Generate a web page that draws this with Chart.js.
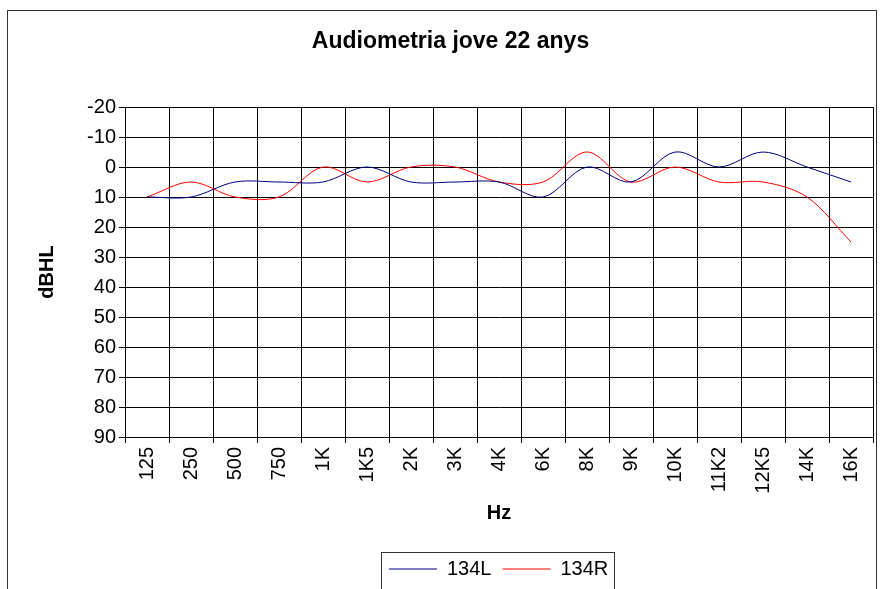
<!DOCTYPE html>
<html>
<head>
<meta charset="utf-8">
<script src="https://cdn.jsdelivr.net/npm/chart.js@4/dist/chart.umd.min.js"></script>
<style>
  html, body { margin: 0; padding: 0; background: #ffffff; }
  #wrap { width: 880px; height: 589px; position: relative; }
</style>
</head>
<body>
<div id="wrap"><canvas id="c" width="880" height="589"></canvas></div>
<script>
// ---- data ----
const frequencies = ['125','250','500','750','1K','1K5','2K','3K','4K','6K','8K','9K','10K','11K2','12K5','14K','16K'];
const ear134L = [10, 10, 5, 5, 5, 0, 5, 5, 5, 10, 0, 5, -5, 0, -5, 0, 5];
const ear134R = [10, 5, 10, 10, 0, 5, 0, 0, 5, 5, -5, 5, 0, 5, 5, 10, 25];
const seriesNames = ['134L', '134R'];
const chartTitle = 'Audiometria jove 22 anys';
const xTitle = 'Hz';
const yTitle = 'dBHL';
const yMin = -20, yMax = 90, yStep = 10;

Chart.defaults.font.family = '"Liberation Sans", Arial, sans-serif';
Chart.defaults.color = '#000000';

const framePlugin = {
  id: 'frame',
  afterLayout(chart) {
    const tb = chart.titleBlock;
    if (tb) { tb.left += 14; tb.right += 14; }
    const lg = chart.legend;
    if (lg && lg.lineWidths) {
      const p = lg.options.labels.padding;
      const start = (lg.left + p + lg.right - lg.lineWidths[0]) / 2;
      const dx = 389 - start;
      lg.left += dx; lg.right += dx;
    }
  },
  beforeDraw(chart) {
    const ctx = chart.ctx;
    ctx.save();
    ctx.fillStyle = '#ffffff';
    ctx.fillRect(0, 0, chart.width, chart.height);
    ctx.restore();
  },
  afterDraw(chart) {
    const ctx = chart.ctx;
    ctx.save();
    ctx.strokeStyle = '#333333';
    ctx.lineWidth = 1;
    ctx.strokeRect(7.5, 10.5, 869, 620);
    const hb = chart.legend && chart.legend.legendHitBoxes;
    if (hb && hb.length) {
      const l = Math.round(hb[0].left - 8) + 0.5;
      const last = hb[hb.length - 1];
      const r = Math.round(last.left + last.width + 6) + 0.5;
      ctx.strokeRect(l, 552.5, r - l, 80);
    }
    ctx.restore();
  }
};

new Chart(document.getElementById('c'), {
  type: 'line',
  data: {
    labels: frequencies,
    datasets: [
      { label: seriesNames[0], data: ear134L, borderColor: '#000080', backgroundColor: '#000080',
        borderWidth: 1, pointRadius: 0, pointHoverRadius: 0, tension: 0.33, fill: false },
      { label: seriesNames[1], data: ear134R, borderColor: '#ff0000', backgroundColor: '#ff0000',
        borderWidth: 1, pointRadius: 0, pointHoverRadius: 0, tension: 0.33, fill: false }
    ]
  },
  options: {
    responsive: false,
    animation: false,
    events: [],
    layout: { padding: { left: 0, right: 7, top: 0, bottom: 0 } },
    plugins: {
      title: {
        display: true, text: chartTitle, color: '#000',
        font: { size: 23, weight: 'bold' },
        padding: { top: 28.2, bottom: 51.2 }
      },
      legend: {
        display: true, position: 'bottom',
        labels: {
          font: { size: 20 }, color: '#000', padding: 11,
          usePointStyle: true, pointStyle: 'line', pointStyleWidth: 48
        }
      },
      tooltip: { enabled: false }
    },
    scales: {
      x: {
        type: 'category',
        offset: true,
        grid: { offset: true, color: '#000', lineWidth: 1, tickLength: 6, drawTicks: true },
        border: { display: true, color: '#000', width: 1 },
        ticks: { minRotation: 90, maxRotation: 90, autoSkip: false, padding: 4, font: { size: 20 }, color: '#000' },
        title: { display: true, text: xTitle, font: { size: 20, weight: 'bold' }, color: '#000', padding: { top: 0, bottom: 23 } },
        afterFit(scale) { scale.height = 111; }
      },
      y: {
        type: 'linear',
        reverse: true,
        min: yMin, max: yMax,
        grid: { color: '#000', lineWidth: 1, tickLength: 6, drawTicks: true },
        border: { display: true, color: '#000', width: 1 },
        ticks: { stepSize: yStep, padding: 3, font: { size: 20 }, color: '#000' },
        title: { display: true, text: yTitle, font: { size: 20, weight: 'bold' }, color: '#000', padding: { top: 35, bottom: 0 } },
        afterFit(scale) { scale.width = 125; }
      }
    }
  },
  plugins: [framePlugin]
});
</script>
</body>
</html>
